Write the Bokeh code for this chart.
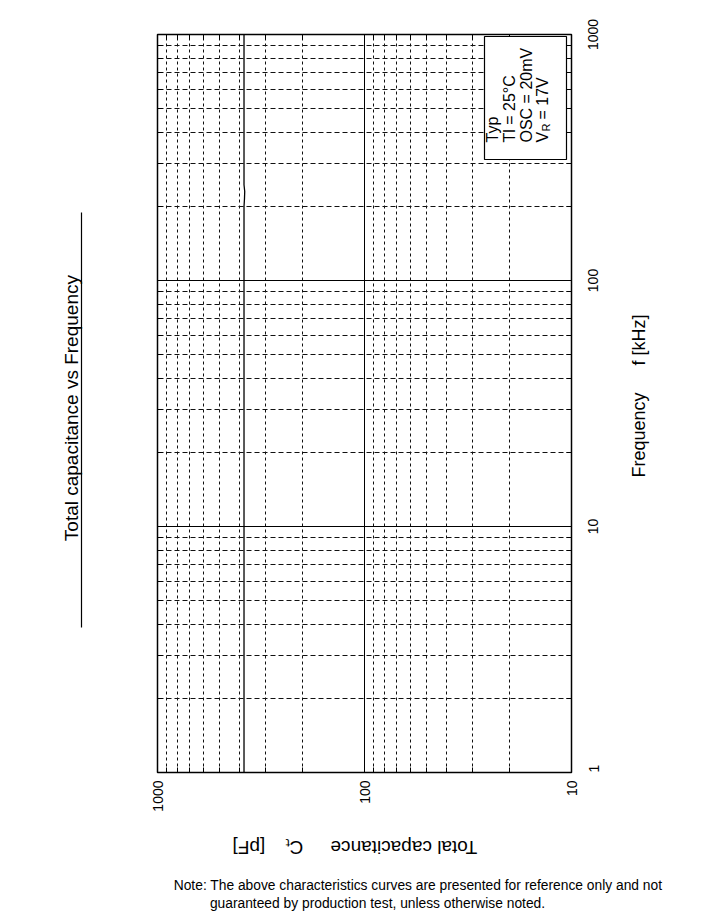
import math
from bokeh.plotting import figure
from bokeh.models import Range1d, LogAxis, FixedTicker, Label, BoxAnnotation
from bokeh.embed import file_html
from bokeh.resources import INLINE

# ---------------- data ----------------
cap_major_ticks = [10, 100, 1000]
cap_major_labels = ["10", "100", "1000"]
cap_minor_ticks = [20, 30, 40, 50, 60, 70, 80, 90, 200, 300, 400, 500, 600, 700, 800, 900]
freq_major_ticks = [1, 10, 100, 1000]
freq_major_labels = ["1", "10", "100", "1000"]
freq_minor_ticks = [2, 3, 4, 5, 6, 7, 8, 9, 20, 30, 40, 50, 60, 70, 80, 90,
                    200, 300, 400, 500, 600, 700, 800, 900]
curve_freq_khz = [1, 2, 5, 10, 20, 50, 100, 200, 215, 230, 245, 500, 1000]
curve_cap_pf = [382, 382, 382, 382, 382, 382, 382, 382, 380, 379, 382, 382, 382]

title_text = "Total capacitance  vs  Frequency"
freq_title = ["Frequency", "f [kHz]"]
cap_title = ["Total capacitance", "C\u209c", "[pF]"]
legend_lines = ["Typ", "Tl = 25°C", "OSC = 20mV"]
note_lines = ["Note: The above characteristics curves are presented for reference only and not",
              "guaranteed by production test, unless otherwise noted."]

# ---------------- layout ----------------
W, H = 694, 915
FL, FR, FT, FB = 157, 571, 34, 772
FONT = "Liberation Sans"
TICK_FS = 14


def xd(px):
    return float(f"{10 ** (3 - (px - FL) / (FR - FL) * 2):.7g}")


def yd(py):
    return float(f"{10 ** ((FB - py) / (FB - FT) * 3):.7g}")


def ypx(v):
    return FB - math.log10(v) / 3 * (FB - FT)


p = figure(width=W, height=H, x_axis_type="log", y_axis_type="log",
           x_range=Range1d(1000, 10), y_range=Range1d(1, 1000),
           x_axis_location="below", y_axis_location="right",
           output_backend="svg", toolbar_location=None,
           min_border_left=FL, min_border_right=W - FR,
           min_border_top=FT, min_border_bottom=H - FB)
p.outline_line_color = "black"
p.outline_line_width = 1.5
p.background_fill_color = "white"
p.border_fill_color = "white"

xt = FixedTicker(ticks=cap_major_ticks, minor_ticks=cap_minor_ticks)
yt = FixedTicker(ticks=freq_major_ticks, minor_ticks=freq_minor_ticks)

top_ax = LogAxis()
left_ax = LogAxis()
p.add_layout(top_ax, "above")
p.add_layout(left_ax, "left")

bottom_ax = p.below[0]
right_ax = p.right[0]

for ax in [bottom_ax, right_ax, top_ax, left_ax]:
    ax.major_tick_in = 6
    ax.major_tick_out = 0
    ax.minor_tick_in = 5
    ax.minor_tick_out = 0
    ax.axis_line_color = "black"
    ax.major_tick_line_color = "black"
    ax.minor_tick_line_color = "black"
    ax.major_label_text_font = FONT
    ax.major_label_text_font_size = f"{TICK_FS}px"
    ax.major_label_text_color = "black"
for ax in [bottom_ax, top_ax]:
    ax.ticker = xt
for ax in [right_ax, left_ax]:
    ax.ticker = yt

# tick-only axes: top (no labels), left (white labels act as spacer), right (labels drawn by next axis)
top_ax.major_label_overrides = {t: "" for t in cap_major_ticks}
top_ax.major_label_standoff = 0
left_ax.major_label_overrides = {t: s for t, s in zip(freq_major_ticks, freq_major_labels)}
left_ax.major_label_text_color = "white"
left_ax.major_label_standoff = 42
right_ax.major_label_overrides = {t: "" for t in freq_major_ticks}
right_ax.major_label_standoff = 0

bottom_ax.major_label_overrides = {t: s for t, s in zip(cap_major_ticks, cap_major_labels)}
bottom_ax.major_label_orientation = math.pi / 2
bottom_ax.major_label_standoff = 8


def text_axis(loc, positions, texts, orientation, standoff, size, bounds=None, line=False):
    ax = LogAxis(ticker=FixedTicker(ticks=positions, minor_ticks=[]),
                 major_label_overrides=dict(zip(positions, texts)),
                 major_label_orientation=orientation,
                 major_label_standoff=standoff,
                 major_label_text_font=FONT, major_label_text_font_size=size,
                 major_label_text_color="black",
                 major_tick_in=0, major_tick_out=0, minor_tick_in=0, minor_tick_out=0,
                 major_tick_line_color=None, minor_tick_line_color=None,
                 axis_line_color="black" if line else None, axis_line_width=1.2)
    if bounds is not None:
        ax.bounds = bounds
    p.add_layout(ax, loc)
    return ax


# frequency tick labels (rotated; anchored at their start so they centre on the ticks)
freq_label_pos = [yd(min(ypx(t) + 0.556 * TICK_FS * len(s) / 2, FB))
                  for t, s in zip(freq_major_ticks, freq_major_labels)]
text_axis("right", freq_label_pos, freq_major_labels, math.pi / 2, 22, f"{TICK_FS}px")

# chart title (left) with its underline as the axis line
text_axis("left", [yd(264)], [title_text], math.pi / 2, 10, "19px",
          bounds=(yd(627), yd(212)), line=True)

# frequency axis title (right)
text_axis("right", [yd(477), yd(365)], freq_title, math.pi / 2, 32, "18px")

# capacitance axis title (below, upside down; anchored at left edge)
text_axis("below", [xd(330), xd(285), xd(232)], cap_title, math.pi, 33, "19px")

# note lines
text_axis("below", [xd(417.5)], [note_lines[0]], "horizontal", 6, "13.8px")
text_axis("below", [xd(377)], [note_lines[1]], "horizontal", 0, "13.8px")

p.xgrid.grid_line_color = "black"
p.xgrid.grid_line_width = 1
p.xgrid.minor_grid_line_color = "#111111"
p.xgrid.minor_grid_line_dash = "3 3"
p.ygrid.grid_line_color = "black"
p.ygrid.grid_line_width = 1
p.ygrid.minor_grid_line_color = "#111111"
p.ygrid.minor_grid_line_dash = "5 3"

# curve
p.line(curve_cap_pf, curve_freq_khz, line_color="black", line_width=1.3)

# legend box
p.add_layout(BoxAnnotation(left=xd(484), right=xd(566), top=yd(36), bottom=yd(159),
                           fill_color="white", fill_alpha=1.0,
                           line_color="black", line_width=1.2, line_alpha=1.0))


def lab(text, px, py, angle, size, align="center", baseline="middle"):
    p.add_layout(Label(x=px, y=py, x_units="canvas", y_units="canvas",
                       text=text, angle=angle,
                       text_font=FONT, text_font_size=size, text_color="black",
                       text_align=align, text_baseline=baseline))


# legend text (rotated 90 deg)
for txt, cx in zip(legend_lines, [492, 509, 526]):
    lab(txt, cx, 142, math.pi / 2, "16px", align="left")
lab("V", 542, 142, math.pi / 2, "16px", align="left")
lab("R", 545, 131, math.pi / 2, "11px", align="left")
lab("= 17V", 542, 119, math.pi / 2, "16px", align="left")

open("out.html", "w").write(file_html(p, INLINE))
